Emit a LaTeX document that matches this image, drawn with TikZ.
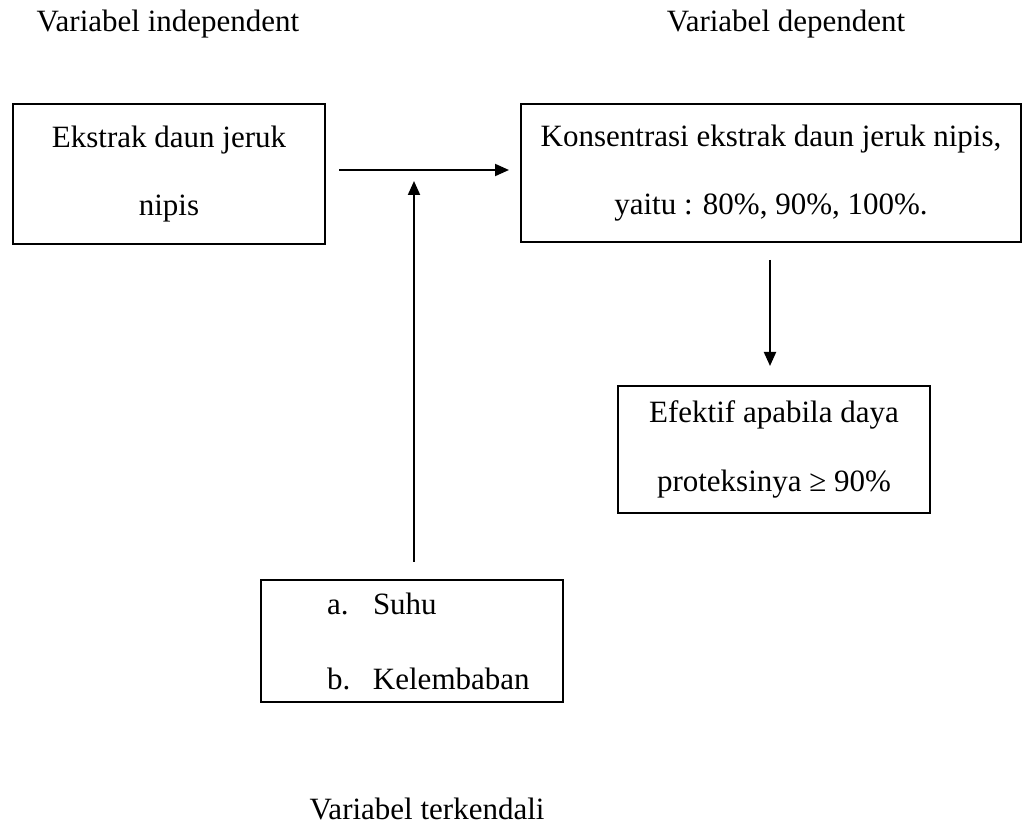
\documentclass[tikz,border=0pt]{standalone}
\usepackage{fontspec}
\setmainfont{Liberation Serif}
\usetikzlibrary{arrows.meta}

\begin{document}
\begin{tikzpicture}[x=0.4pt,y=-0.4pt,font=\fontsize{12.4pt}{27.5pt}\selectfont]

\tikzset{box/.style={draw,line width=0.8pt,align=center,inner sep=0pt},
  arr/.style={line width=0.8pt,-{Triangle[length=5.6pt,width=4.8pt]}}}

\useasboundingbox (0,0) rectangle (1027,825);

% judul variabel
\node (lind) at (168,24) {Variabel independent};
\node (ldep) at (786,24) {Variabel dependent};
\node (lctl) at (427,809) {Variabel terkendali};

% kotak
\node[box,minimum width=124.8pt,minimum height=56pt] (ind) at (169,174)
  {Ekstrak daun jeruk\\nipis};
\node[box,minimum width=200pt,minimum height=55.2pt] (dep) at (771,173)
  {Konsentrasi ekstrak daun jeruk nipis,\\yaitu : 80\%, 90\%, 100\%.};
\node[box,minimum width=124.8pt,minimum height=50.8pt] (eff) at (774,449.5)
  {Efektif apabila daya\\proteksinya ≥ 90\%};
\node[box,align=left,text width=120.8pt,minimum height=48.8pt,
  font=\fontsize{12.4pt}{30pt}\selectfont] (ctl) at (412,641)
  {\hspace*{26.4pt}\makebox[18.4pt][l]{a.}Suhu\\
   \hspace*{26.4pt}\makebox[18.4pt][l]{b.}Kelembaban};

\coordinate (meet) at (414,181);

\draw[arr] ([shift={(13,-4)}]ind.east) -- ([shift={(-11,-3)}]dep.west);
\draw[arr] ([shift={(2,-17)}]ctl.north) -- (meet);
\draw[arr] ([shift={(-1,17)}]dep.south) -- ([shift={(-4,-19)}]eff.north);
\end{tikzpicture}
\end{document}
